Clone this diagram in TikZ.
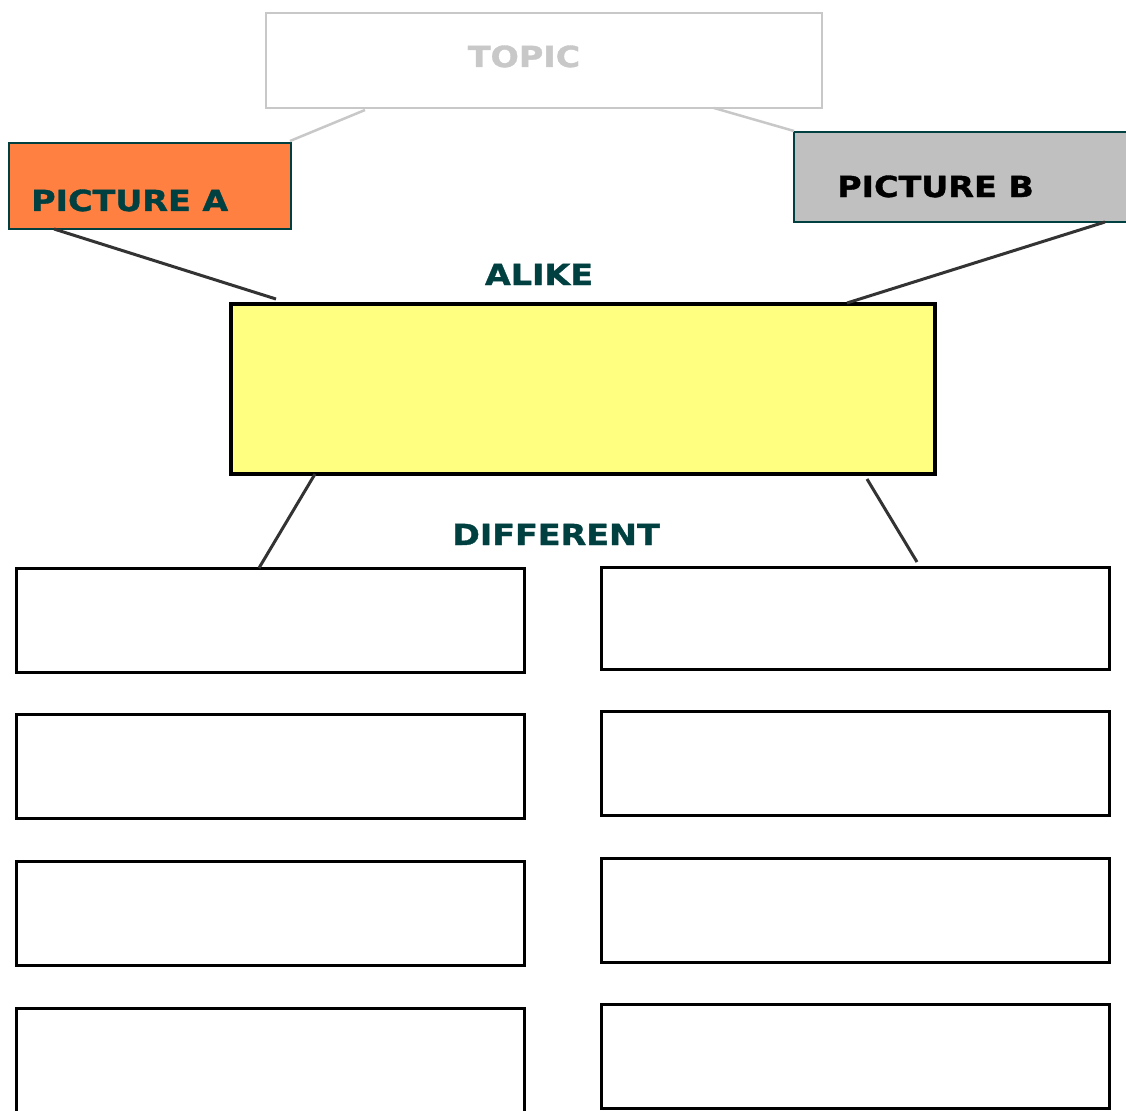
\documentclass[tikz,border=0pt]{standalone}
\usepackage{fontspec}
\newfontfamily\hdfont[FakeStretch=1.15,BoldFeatures={FakeBold=1.2}]{DejaVu Sans}
\definecolor{teal4}{HTML}{004040}
\definecolor{topicgray}{HTML}{C8C8C8}
\definecolor{orangeA}{HTML}{FF8040}
\definecolor{grayB}{HTML}{C0C0C0}
\definecolor{yell}{HTML}{FFFF80}
\definecolor{linegray}{HTML}{333333}
\tikzset{
  hd/.style={font=\hdfont\bfseries\fontsize{29pt}{29pt}\selectfont, inner sep=0pt},
  boxbase/.style={rectangle, inner sep=0pt, outer sep=0pt},
  topicbox/.style={boxbase, draw=topicgray, line width=2.5pt, fill=white},
  picbox/.style={boxbase, draw=teal4, line width=2.5pt},
  alikebox/.style={boxbase, draw=black, fill=yell, line width=3.5pt},
  diffbox/.style={boxbase, draw=black, fill=white, line width=3pt, minimum width=508pt},
  lightlink/.style={draw=topicgray, line width=2.5pt},
  darklink/.style={draw=linegray, line width=3pt}
}
\begin{document}
\begin{tikzpicture}[x=1pt,y=-1pt]
\clip (0,0) rectangle (1126,1110);
\fill[white] (0,0) rectangle (1126,1110);
% boxes
\node[topicbox, minimum width=556pt, minimum height=95pt] (topic) at (544,60.5) {};
\node[hd, text=topicgray, anchor=base] (topictext) at (524,67) {TOPIC};
\node[picbox, fill=orangeA, minimum width=282pt, minimum height=86pt] (picA) at (150,186) {};
\node[hd, text=teal4, anchor=base west] (picAtext) at (31,211) {PICTURE A};
\node[picbox, fill=grayB, minimum width=350pt, minimum height=90pt] (picB) at (969,177) {};
\node[hd, text=black, anchor=base west] (picBtext) at (837,197) {PICTURE B};
\node[hd, text=teal4, anchor=base] (alike) at (539,285) {ALIKE};
\node[alikebox, minimum width=704pt, minimum height=170pt] (yellow) at (583,389) {};
\node[hd, text=teal4, anchor=base] (different) at (556,545) {DIFFERENT};
% difference boxes
\node[diffbox, minimum height=104pt] (l1) at (270,620) {};
\node[diffbox, minimum height=104pt] (l2) at (270,766) {};
\node[diffbox, minimum height=104pt] (l3) at (270,913) {};
\node[diffbox, minimum height=104pt] (l4) at (270,1060) {};
\node[diffbox, minimum height=102pt] (r1) at (855,618) {};
\node[diffbox, minimum height=104pt] (r2) at (855,763) {};
\node[diffbox, minimum height=104pt] (r3) at (855,910) {};
\node[diffbox, minimum height=104pt] (r4) at (855,1056.5) {};
% connectors
\draw[lightlink] ([xshift=99pt,yshift=-2pt]topic.south west) -- ([xshift=-1pt,yshift=2pt]picA.north east);
\draw[lightlink] ([xshift=-108pt]topic.south east) -- ([yshift=1pt]picB.north west);
\draw[darklink] ([xshift=45pt]picA.south west) -- ([xshift=45pt,yshift=5pt]yellow.north west);
\draw[darklink] ([xshift=311pt]picB.south west) -- ([xshift=-88pt,yshift=1pt]yellow.north east);
\draw[darklink] ([xshift=84pt]yellow.south west) -- ([xshift=243pt]l1.north west);
\draw[darklink] ([xshift=-68pt,yshift=-5pt]yellow.south east) -- ([xshift=316pt,yshift=5pt]r1.north west);
\end{tikzpicture}
\end{document}
